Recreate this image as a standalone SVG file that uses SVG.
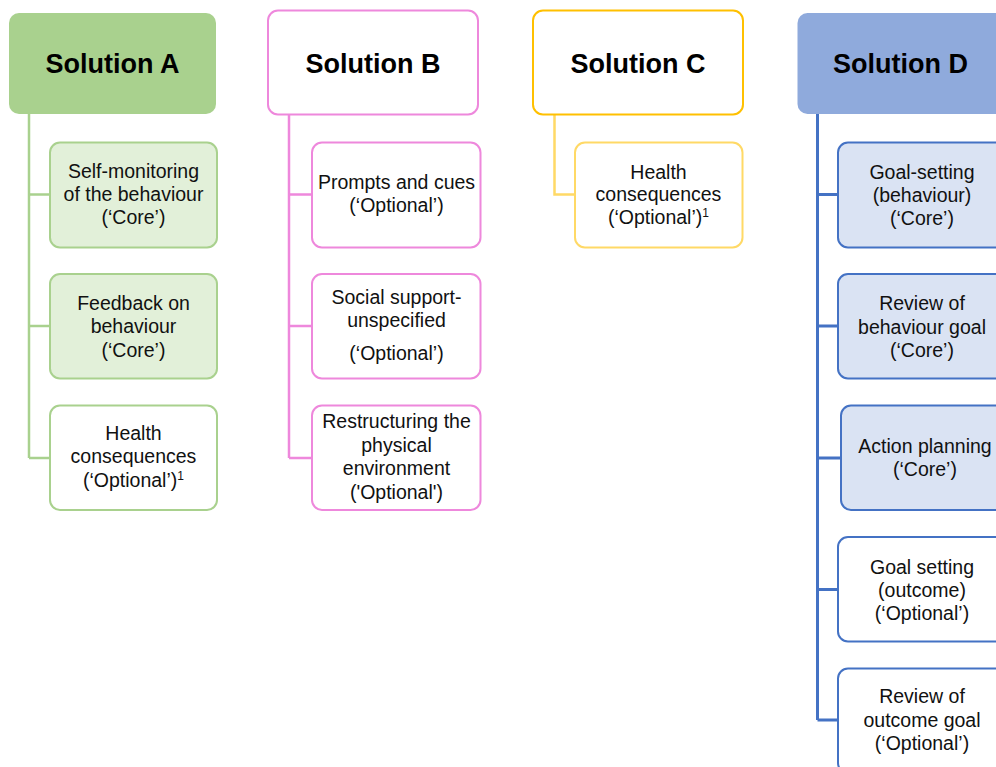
<svg xmlns="http://www.w3.org/2000/svg" width="996" height="767" viewBox="0 0 996 767">
<style>
text{font-family:"Liberation Sans",Arial,sans-serif;fill:#111;text-anchor:middle}
.h{font-size:27px;font-weight:bold;fill:#000}
.t{font-size:19.5px}
.sup{font-size:12px}
.gA{stroke:#A9D18E}
.gB{stroke:#EE88DC}
.gC{stroke:#FFD966}
.gD{stroke:#4472C4}
.con{fill:none;stroke-width:2.5}
.box{stroke-width:2}
</style>
<rect width="996" height="767" fill="#fff"/>
<g id="connectors">
<path class="con gA" d="M29 114V458M29 194.5H50M29 326H50M29 458H50"/>
<path class="con gB" d="M289 115V458M289 194.5H312M289 326H312M289 458H312"/>
<path class="con gC" d="M554.5 115V194.5H575"/>
<path class="con gD" style="stroke-width:3" d="M817.5 114V720M817.5 194.5H838M817.5 326H838M817.5 458H841M817.5 589.5H838M817.5 720H838"/>
</g>
<g id="solutionA">
<rect x="9" y="13" width="207" height="101" rx="10" fill="#A9D18E"/>
<text class="h" x="112.5" y="73">Solution A</text>
</g>
<g id="A1">
<rect class="box gA" x="50" y="142.5" width="167" height="105" rx="10" fill="#E2F0D9"/>
<text class="t" x="133.5" y="177.5">Self-monitoring</text>
<text class="t" x="133.5" y="200.5">of the behaviour</text>
<text class="t" x="133.5" y="223.5">(‘Core’)</text>
</g>
<g id="A2">
<rect class="box gA" x="50" y="274" width="167" height="104.5" rx="10" fill="#E2F0D9"/>
<text class="t" x="133.5" y="309.5">Feedback on</text>
<text class="t" x="133.5" y="333">behaviour</text>
<text class="t" x="133.5" y="356.5">(‘Core’)</text>
</g>
<g id="A3">
<rect class="box gA" x="50" y="405.5" width="167" height="104.5" rx="10" fill="#fff"/>
<text class="t" x="133.5" y="440">Health</text>
<text class="t" x="133.5" y="463">consequences</text>
<text class="t" x="133.5" y="487">(‘Optional’)<tspan class="sup" dy="-7">1</tspan></text>
</g>
<g id="solutionB">
<rect class="box gB" x="268" y="10.5" width="210" height="104" rx="10" fill="#fff"/>
<text class="h" x="373" y="73">Solution B</text>
</g>
<g id="B1">
<rect class="box gB" x="312" y="142.5" width="168.5" height="105" rx="10" fill="#fff"/>
<text class="t" x="396.5" y="188.5">Prompts and cues</text>
<text class="t" x="396.5" y="211.5">(‘Optional’)</text>
</g>
<g id="B2">
<rect class="box gB" x="312" y="274" width="168.5" height="104.5" rx="10" fill="#fff"/>
<text class="t" x="396.5" y="303.5">Social support-</text>
<text class="t" x="396.5" y="327">unspecified</text>
<text class="t" x="396.5" y="359.5">(‘Optional’)</text>
</g>
<g id="B3">
<rect class="box gB" x="312" y="405.5" width="168.5" height="104.5" rx="10" fill="#fff"/>
<text class="t" x="396.5" y="428">Restructuring the</text>
<text class="t" x="396.5" y="451.5">physical</text>
<text class="t" x="396.5" y="475">environment</text>
<text class="t" x="396.5" y="498.5">('Optional')</text>
</g>
<g id="solutionC">
<rect class="box" x="533" y="10.5" width="210" height="104" rx="10" fill="#fff" stroke="#FFC000"/>
<text class="h" x="638" y="73">Solution C</text>
</g>
<g id="C1">
<rect class="box gC" x="575" y="142.5" width="167.5" height="105" rx="10" fill="#fff"/>
<text class="t" x="658.5" y="178.5">Health</text>
<text class="t" x="658.5" y="201">consequences</text>
<text class="t" x="658.5" y="224">(‘Optional’)<tspan class="sup" dy="-7">1</tspan></text>
</g>
<g id="solutionD">
<rect x="797.5" y="13" width="207" height="101" rx="10" fill="#8FAADC"/>
<text class="h" x="900.5" y="73">Solution D</text>
</g>
<g id="D1">
<rect class="box gD" x="838" y="142.5" width="168" height="105" rx="10" fill="#DAE3F3"/>
<text class="t" x="922" y="178.5">Goal-setting</text>
<text class="t" x="922" y="202">(behaviour)</text>
<text class="t" x="922" y="225">(‘Core’)</text>
</g>
<g id="D2">
<rect class="box gD" x="838" y="274" width="168" height="104.5" rx="10" fill="#DAE3F3"/>
<text class="t" x="922" y="310">Review of</text>
<text class="t" x="922" y="333.5">behaviour goal</text>
<text class="t" x="922" y="357">(‘Core’)</text>
</g>
<g id="D3">
<rect class="box gD" x="841" y="405.5" width="168" height="104.5" rx="10" fill="#DAE3F3"/>
<text class="t" x="925" y="453">Action planning</text>
<text class="t" x="925" y="476">(‘Core’)</text>
</g>
<g id="D4">
<rect class="box gD" x="838" y="537" width="168" height="104.5" rx="10" fill="#fff"/>
<text class="t" x="922" y="573.5">Goal setting</text>
<text class="t" x="922" y="596.5">(outcome)</text>
<text class="t" x="922" y="619.5">(‘Optional’)</text>
</g>
<g id="D5">
<rect class="box gD" x="838" y="668.5" width="168" height="104.5" rx="10" fill="#fff"/>
<text class="t" x="922" y="703">Review of</text>
<text class="t" x="922" y="726.5">outcome goal</text>
<text class="t" x="922" y="750">(‘Optional’)</text>
</g>
</svg>
